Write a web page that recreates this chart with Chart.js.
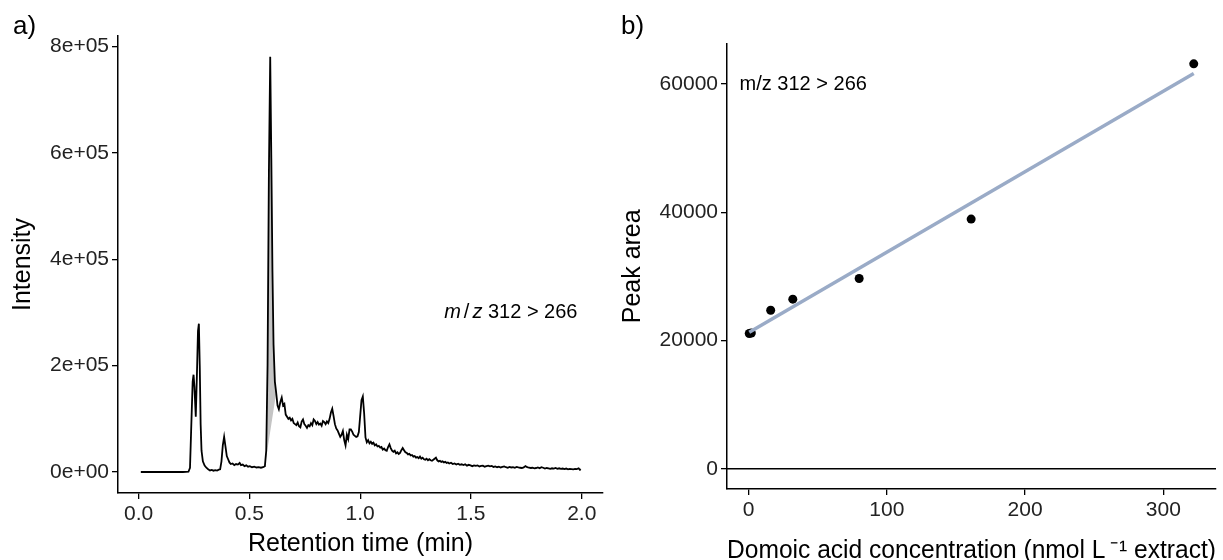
<!DOCTYPE html>
<html><head><meta charset="utf-8">
<script src="https://cdn.jsdelivr.net/npm/chart.js@4.4.1/dist/chart.umd.min.js"></script>
<style>
html,body{margin:0;padding:0;background:#fff;}
#wrap{position:relative;width:1223px;height:560px;overflow:hidden;background:#fff;}
canvas{position:absolute;top:0;}
#c1{left:0;}
#c2{left:610px;}
</style></head><body>
<div id="wrap"><canvas id="c1" width="610" height="560"></canvas><canvas id="c2" width="613" height="560"></canvas></div>
<script>
// ---- Panel a: chromatogram ----
const retentionTime = [
 0.01,0.05,0.10,0.15,0.20,0.225,0.232,0.238,0.244,0.248,
 0.252,0.258,0.263,0.268,0.272,0.276,0.280,0.284,0.290,0.298,
 0.306,0.314,0.322,0.330,0.338,0.346,0.354,0.362,0.368,0.374,
 0.380,0.386,0.392,0.398,0.404,0.410,0.416,0.424,0.432,0.440,
 0.448,0.456,0.462,0.470,0.478,0.486,0.494,0.502,0.512,0.522,
 0.532,0.542,0.552,0.562,0.570,0.576,0.582,0.588,0.594,0.599,
 0.604,0.609,0.615,0.621,0.627,0.633,0.640,0.646,0.652,0.658,
 0.664,0.670,0.676,0.682,0.688,0.694,0.700,0.706,0.712,0.718,
 0.724,0.730,0.736,0.742,0.748,0.754,0.760,0.766,0.772,0.778,
 0.784,0.790,0.796,0.802,0.808,0.814,0.820,0.826,0.832,0.838,
 0.844,0.850,0.856,0.862,0.868,0.874,0.880,0.886,0.892,0.898,
 0.904,0.910,0.916,0.922,0.928,0.934,0.940,0.946,0.952,0.958,
 0.964,0.970,0.976,0.982,0.988,0.994,1.000,1.006,1.012,1.018,
 1.024,1.030,1.036,1.042,1.048,1.054,1.060,1.066,1.072,1.078,
 1.084,1.090,1.096,1.102,1.108,1.114,1.120,1.126,1.132,1.138,
 1.144,1.150,1.156,1.162,1.168,1.174,1.180,1.186,1.192,1.198,
 1.204,1.210,1.216,1.222,1.228,1.234,1.240,1.246,1.252,1.258,
 1.264,1.270,1.276,1.282,1.288,1.294,1.300,1.306,1.312,1.318,
 1.324,1.330,1.336,1.342,1.348,1.354,1.360,1.366,1.372,1.378,
 1.384,1.390,1.396,1.402,1.410,1.418,1.426,1.434,1.442,1.450,
 1.458,1.466,1.474,1.482,1.490,1.498,1.506,1.514,1.522,1.530,
 1.538,1.546,1.554,1.562,1.570,1.578,1.586,1.594,1.602,1.610,
 1.618,1.626,1.634,1.642,1.650,1.658,1.666,1.674,1.682,1.690,
 1.698,1.706,1.714,1.722,1.730,1.738,1.746,1.754,1.762,1.770,
 1.778,1.786,1.794,1.802,1.810,1.818,1.826,1.834,1.842,1.850,
 1.858,1.866,1.874,1.882,1.890,1.898,1.906,1.914,1.922,1.930,
 1.938,1.946,1.954,1.962,1.970,1.978,1.986,1.992,1.996
];
const intensity = [
 0,0,0,0,0,500,8000,90000,170000,183000,
 160000,104000,180000,265000,279000,200000,90000,40000,20000,12000,
 8000,5000,3000,4000,2500,3500,2800,4500,5000,20000,
 50000,66000,48000,30000,24000,18000,15000,16000,13000,15000,
 14000,17000,13000,14000,11000,12500,10000,11000,9000,10000,
 8500,9000,8000,9000,11000,40000,200000,560000,781000,590000,
 380000,240000,170000,149000,125000,118000,132000,140000,125000,128000,
 108000,104000,100000,102000,97000,100000,92000,90000,88000,93000,
 86000,84000,95000,99000,90000,87000,83000,88000,86000,92000,
 88000,99000,96000,90000,94000,89000,91000,87000,96000,94000,
 90000,95000,92000,100000,112000,119000,105000,90000,82000,78000,
 72000,66000,70000,77000,60000,50000,70000,62000,80000,80000,
 76000,70000,68000,66000,67000,75000,105000,135000,142000,110000,
 65000,56000,60000,54000,57000,53000,55000,50000,52000,48000,
 49000,46000,47000,42000,44000,41000,40000,47000,52000,45000,
 40000,38000,40000,35000,37000,34000,36000,41000,45000,41000,
 37000,36000,33000,34000,31000,32000,29000,30000,27000,28000,
 26000,29000,25000,27000,24000,23000,25000,22000,24000,22000,
 21000,23000,25000,27000,22000,20000,21000,19000,20000,18000,
 19000,17000,18000,16000,17500,15000,16000,14000,15500,13500,
 14500,13000,14500,12000,13500,12500,11000,12500,11500,12500,
 10500,11500,12000,10000,11000,12000,10500,11500,9500,10500,
 9000,10000,8500,9500,10500,9000,8000,9500,8500,9000,
 8000,9500,8500,8000,7500,8500,11000,9000,8000,7500,
 8000,7000,7500,8500,7000,9000,8000,6500,7500,7000,
 6000,7000,6500,7500,6000,7000,6000,6500,5500,6500,
 5000,6000,5500,5000,6000,5500,7000,4000,5000
];
const peakBaselineTime = [0.570, 0.621];
const peakBaselineIntensity = [11000, 149000];
const chromXTicks = [0, 0.5, 1.0, 1.5, 2.0];
const chromYTicks = [0, 200000, 400000, 600000, 800000];
const chromLabelPos = [1.68, 300000];

// ---- Panel b: calibration ----
const concentration = [0.5, 2, 16, 32, 80, 161, 322];
const peakArea = [21090, 21180, 24715, 26450, 29680, 38940, 63140];
const fitConcentration = [0.5, 322];
const fitPeakArea = [21300, 61650];
const calXTicks = [0, 100, 200, 300];
const calYTicks = [0, 20000, 40000, 60000];
const calLabelPos = [-6.5, 60000];

Chart.defaults.font.family = "'Liberation Sans', Arial, Helvetica, sans-serif";
Chart.defaults.color = '#222';
Chart.defaults.animation = false;

const FONT = "'Liberation Sans', Arial, Helvetica, sans-serif";
function sci(v) {
  const s = Number(v).toExponential();
  const [m, e] = s.split('e');
  const sign = e[0] === '-' ? '-' : '+';
  const d = e.replace(/[+-]/, '');
  return m + 'e' + sign + (d.length < 2 ? '0' + d : d);
}
function axisOpts(extra) {
  return Object.assign({
    type: 'linear',
    grid: {display: true, drawOnChartArea: false, drawTicks: true, tickLength: 6, color: '#000', lineWidth: 1.3},
    border: {display: true, color: '#000', width: 1.5},
  }, extra);
}

const chromPoints = retentionTime.map((t, i) => ({x: t, y: intensity[i]}));
const peakPoints = chromPoints.filter(p => p.x >= peakBaselineTime[0] && p.x <= peakBaselineTime[1]);
const basePoints = peakBaselineTime.map((t, i) => ({x: t, y: peakBaselineIntensity[i]}));

new Chart(document.getElementById('c1'), {
  type: 'line',
  data: {datasets: [
    {data: chromPoints, borderColor: '#000', borderWidth: 1.8, pointRadius: 0, fill: false, tension: 0, order: 0},
    {data: peakPoints, borderColor: 'rgba(0,0,0,0)', borderWidth: 1, pointRadius: 0, backgroundColor: '#c4c4c4',
     fill: {target: 2, above: '#c4c4c4', below: '#c4c4c4'}, tension: 0, order: 1},
    {data: basePoints, borderColor: 'rgba(0,0,0,0)', borderWidth: 1, pointRadius: 0, fill: false, order: 2}
  ]},
  options: {
    responsive: false, animation: false,
    layout: {padding: {left: 11, right: 7, top: 36, bottom: 3.5}},
    plugins: {legend: {display: false}, tooltip: {enabled: false}},
    scales: {
      x: axisOpts({
        position: 'bottom', min: -0.093, max: 2.096,
        afterBuildTicks: s => { s.ticks = chromXTicks.map(v => ({value: v})); },
        afterFit: s => { s.height = 63.5; },
        ticks: {color: '#222', font: {size: 21}, padding: 3, maxRotation: 0, autoSkip: false, callback: v => Number(v).toFixed(1)},
        title: {display: true, text: 'Retention time (min)', color: '#000', font: {size: 25, lineHeight: 1}, padding: {top: 0, bottom: 0}}
      }),
      y: axisOpts({
        position: 'left', min: -39500, max: 820000,
        afterBuildTicks: s => { s.ticks = chromYTicks.map(v => ({value: v})); },
        afterFit: s => { s.width = 107; },
        ticks: {color: '#222', font: {size: 21}, padding: 3, autoSkip: false, callback: v => sci(v)},
        title: {display: true, text: 'Intensity', color: '#000', font: {size: 25, lineHeight: 1}, padding: {top: 0, bottom: 0}}
      })
    }
  },
  plugins: [{
    id: 'annotA',
    afterDraw(chart) {
      const ctx = chart.ctx;
      ctx.save();
      ctx.fillStyle = '#000';
      ctx.textBaseline = 'alphabetic';
      ctx.font = '26px ' + FONT;
      ctx.textAlign = 'left';
      ctx.fillText('a)', 13, 34);
      const cx = chart.scales.x.getPixelForValue(chromLabelPos[0]);
      const cy = chart.scales.y.getPixelForValue(chromLabelPos[1]);
      const size = 20;
      const parts = [['m', 'italic '], ['/', ''], ['z', 'italic '], [' 312 > 266', '']];
      const gaps = [3, 3, 0, 0];
      let total = 0;
      const widths = parts.map((p, i) => { ctx.font = p[1] + size + 'px ' + FONT; const w = ctx.measureText(p[0]).width; total += w + gaps[i]; return w; });
      let x = cx - total / 2;
      ctx.textBaseline = 'middle';
      parts.forEach((p, i) => { ctx.font = p[1] + size + 'px ' + FONT; ctx.fillText(p[0], x, cy); x += widths[i] + gaps[i]; });
      ctx.restore();
    }
  }]
});

new Chart(document.getElementById('c2'), {
  type: 'scatter',
  data: {datasets: [
    {data: fitConcentration.map((c, i) => ({x: c, y: fitPeakArea[i]})), showLine: true, borderColor: '#9aabc7', borderWidth: 3.5,
     pointRadius: 0, fill: false, order: 0},
    {data: concentration.map((c, i) => ({x: c, y: peakArea[i]})), pointRadius: 4.5, pointBackgroundColor: '#000',
     pointBorderWidth: 0, pointBorderColor: '#000', order: 1}
  ]},
  options: {
    responsive: false, animation: false,
    layout: {padding: {left: 11, right: 7, top: 43.6, bottom: 0}},
    plugins: {legend: {display: false}, tooltip: {enabled: false}},
    scales: {
      x: axisOpts({
        position: 'bottom', min: -15.6, max: 338.1,
        afterBuildTicks: s => { s.ticks = calXTicks.map(v => ({value: v})); },
        afterFit: s => { s.height = 71; },
        ticks: {color: '#222', font: {size: 21}, padding: 3, maxRotation: 0, autoSkip: false, callback: v => String(v)},
        title: {display: true, text: 'Domoic acid concentration (nmol L\u2009\u207B\u00B9 extract)', color: '#000', font: {size: 25.5, lineHeight: 1}, padding: {top: 0, bottom: -4}}
      }),
      y: axisOpts({
        position: 'left', min: -3150, max: 66300,
        afterBuildTicks: s => { s.ticks = calYTicks.map(v => ({value: v})); },
        afterFit: s => { s.width = 106; },
        ticks: {color: '#222', font: {size: 21}, padding: 3, autoSkip: false, callback: v => String(v)},
        title: {display: true, text: 'Peak area', color: '#000', font: {size: 25, lineHeight: 1}, padding: {top: 0, bottom: 0}}
      })
    }
  },
  plugins: [{
    id: 'annotB',
    beforeDatasetsDraw(chart) {
      const ctx = chart.ctx, a = chart.chartArea;
      const y0 = chart.scales.y.getPixelForValue(0);
      ctx.save();
      ctx.strokeStyle = '#000';
      ctx.lineWidth = 1.4;
      ctx.beginPath(); ctx.moveTo(a.left, y0); ctx.lineTo(a.right, y0); ctx.stroke();
      ctx.restore();
    },
    afterDraw(chart) {
      const ctx = chart.ctx;
      ctx.save();
      ctx.fillStyle = '#000';
      ctx.textBaseline = 'alphabetic';
      ctx.font = '26px ' + FONT;
      ctx.textAlign = 'left';
      ctx.fillText('b)', 11, 34);
      ctx.font = '20px ' + FONT;
      ctx.textBaseline = 'middle';
      ctx.fillText('m/z 312 > 266', chart.scales.x.getPixelForValue(calLabelPos[0]), chart.scales.y.getPixelForValue(calLabelPos[1]));
      ctx.restore();
    }
  }]
});
</script>
</body></html>
